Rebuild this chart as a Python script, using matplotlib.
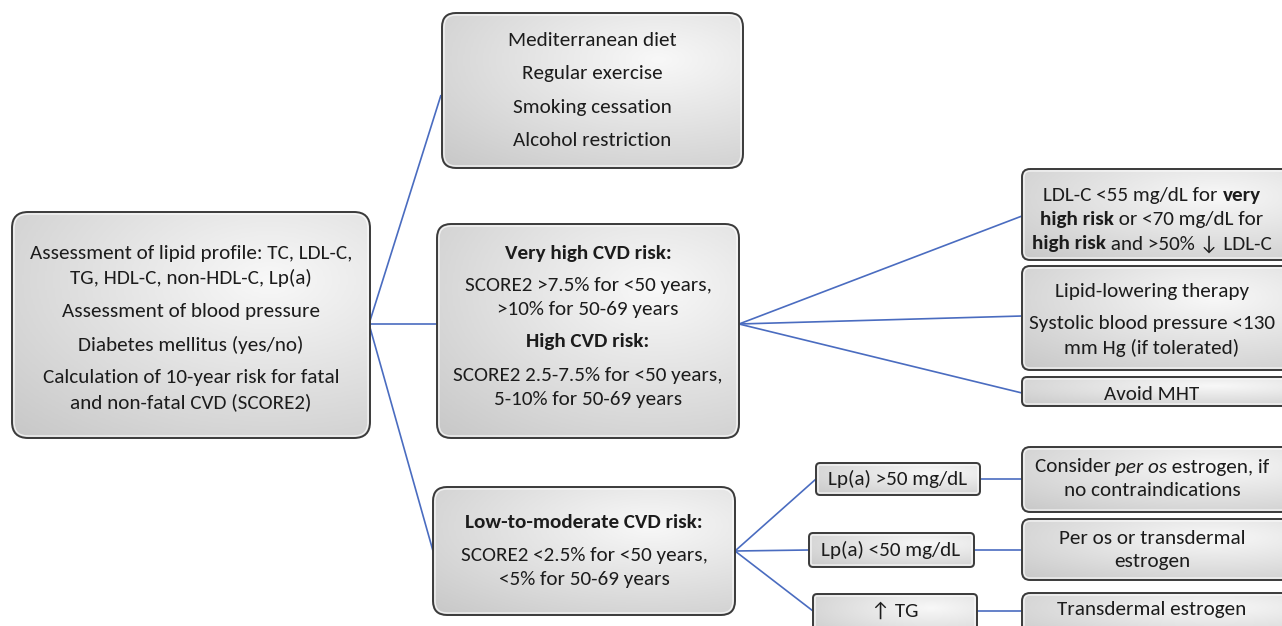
import matplotlib
matplotlib.use("Agg")
import matplotlib.pyplot as plt
from matplotlib.patches import FancyBboxPatch
from matplotlib import font_manager
import numpy as np

W, H = 1282, 626
avail = {f.name for f in font_manager.fontManager.ttflist}
MAIN = "Carlito" if "Carlito" in avail else "Lato"
FAM = [MAIN, "DejaVu Sans"]

# ---------------- content ----------------
# each line: list of (text, weight, style) segments
def P(t):
    return [(t, "normal", "normal")]

def B(t):
    return [(t, "bold", "normal")]

root_lines = [P("Assessment of lipid profile: TC, LDL-C,"), P("TG, HDL-C, non-HDL-C, Lp(a)"),
              P("Assessment of blood pressure"), P("Diabetes mellitus (yes/no)"),
              P("Calculation of 10-year risk for fatal"), P("and non-fatal CVD (SCORE2)")]
lifestyle_lines = [P("Mediterranean diet"), P("Regular exercise"), P("Smoking cessation"), P("Alcohol restriction")]
high_lines = [B("Very high CVD risk:"), P("SCORE2 >7.5% for <50 years,"), P(">10% for 50-69 years"),
              B("High CVD risk:"), P("SCORE2 2.5-7.5% for <50 years,"), P("5-10% for 50-69 years")]
low_lines = [B("Low-to-moderate CVD risk:"), P("SCORE2 <2.5% for <50 years,"), P("<5% for 50-69 years")]
ldl_lines = [[("LDL-C <55 mg/dL for ", "normal", "normal"), ("very", "bold", "normal")],
             [("high risk", "bold", "normal"), (" or <70 mg/dL for", "normal", "normal")],
             [("high risk", "bold", "normal"), (" and >50% \u2193 LDL-C", "normal", "normal")]]
therapy_lines = [P("Lipid-lowering therapy"), P("Systolic blood pressure <130"), P("mm Hg (if tolerated)")]
mht_lines = [P("Avoid MHT")]
lpa_hi_lines = [P("Lp(a) >50 mg/dL")]
lpa_lo_lines = [P("Lp(a) <50 mg/dL")]
tg_lines = [P("\u2191 TG")]
peros_lines = [[("Consider ", "normal", "normal"), ("per os", "normal", "italic"), (" estrogen, if", "normal", "normal")],
               P("no contraindications")]
either_lines = [P("Per os or transdermal"), P("estrogen")]
transd_lines = [P("Transdermal estrogen")]

# ---------------- figure ----------------
fig = plt.figure(figsize=(W / 100, H / 100), dpi=100)
ax = fig.add_axes([0, 0, 1, 1])
ax.set_xlim(0, W)
ax.set_ylim(H, 0)
ax.axis("off")
renderer = fig.canvas.get_renderer()

FS = 15.2
LINE_C = "#4a6cc0"
EDGE_C = "#3a3a3a"

yy, xx = np.mgrid[0:1:120j, 0:1:200j]
grad = 0.95 - 0.21 * np.sqrt(((xx - 0.72) * 1.0) ** 2 + ((yy - 0.30) * 1.1) ** 2)
grad = np.clip(grad, 0.6, 0.95)
cmap = matplotlib.colors.LinearSegmentedColormap.from_list("g", ["#ababab", "#f8f8f8"])


def box(x0, y0, x1, y1, r=12):
    p = FancyBboxPatch((x0, y0), x1 - x0, y1 - y0, boxstyle=f"round,pad=0,rounding_size={r}",
                       facecolor="none", edgecolor=EDGE_C, lw=1.4, zorder=3)
    ax.add_patch(p)
    im = ax.imshow(grad, extent=(x0, x1, y1, y0), origin="upper", cmap=cmap, vmin=0.6, vmax=0.95,
                   aspect="auto", zorder=2, interpolation="bilinear")
    im.set_clip_path(p)
    # bevel highlight just inside the border
    hl = FancyBboxPatch((x0 + 2, y0 + 2), x1 - x0 - 4, y1 - y0 - 4,
                        boxstyle=f"round,pad=0,rounding_size={max(r - 2, 1)}",
                        facecolor="none", edgecolor="white", lw=1.0, alpha=0.7, zorder=2.5)
    ax.add_patch(hl)


def rich_line(cx, y, segs, fs=FS):
    objs = []
    for t, w, s in segs:
        o = ax.text(0, y, t, fontsize=fs, fontweight=w, fontstyle=s, family=FAM,
                    ha="left", va="center", color="#1c1c1c", zorder=5)
        objs.append(o)
    widths = [o.get_window_extent(renderer).width for o in objs]
    x = cx - sum(widths) / 2
    for o, w in zip(objs, widths):
        o.set_x(x)
        x += w


def texts(cx, ys, lines, fs=FS):
    for y, segs in zip(ys, lines):
        rich_line(cx, y, segs, fs)


def line(x0, y0, x1, y1):
    ax.plot([x0, x1], [y0, y1], color=LINE_C, lw=1.2, zorder=1, solid_capstyle="butt")


# connectors
line(369, 324, 441, 95)
line(369, 324, 437, 324)
line(369, 324, 433, 551)
line(739, 324, 1022, 216)
line(739, 324, 1022, 316)
line(739, 324, 1022, 393)
line(735, 551, 816, 479)
line(735, 551, 809, 550)
line(735, 551, 813, 611)
line(980, 479, 1022, 479)
line(974, 550, 1022, 550)
line(977, 611, 1022, 611)

# boxes
box(12, 212, 370, 438, 16)
texts(191, [254, 278, 311, 345, 378, 402], root_lines)

box(442, 13, 743, 168, 14)
texts(592, [41, 74, 107, 141], lifestyle_lines)

box(437, 224, 739, 438, 14)
texts(588, [253, 285, 309, 342, 375, 399], high_lines)

box(433, 487, 735, 615, 14)
texts(584, [522, 556, 580], low_lines)

box(1022, 169, 1290, 260, 8)
texts(1152, [196, 220, 244], ldl_lines)

box(1022, 266, 1290, 370, 8)
texts(1152, [291, 324, 348], therapy_lines)

box(1022, 377, 1290, 406, 5)
texts(1152, [395], mht_lines)

box(816, 463, 980, 495, 4)
texts(898, [479], lpa_hi_lines)

box(809, 533, 974, 567, 4)
texts(891, [550], lpa_lo_lines)

box(813, 594, 977, 640, 4)
texts(895, [611], tg_lines)

box(1022, 447, 1290, 512, 8)
texts(1152, [467, 491], peros_lines)

box(1022, 519, 1290, 580, 8)
texts(1152, [538, 562], either_lines)

box(1022, 593, 1290, 640, 8)
texts(1152, [610], transd_lines)

fig.savefig("out.png", dpi=100)
